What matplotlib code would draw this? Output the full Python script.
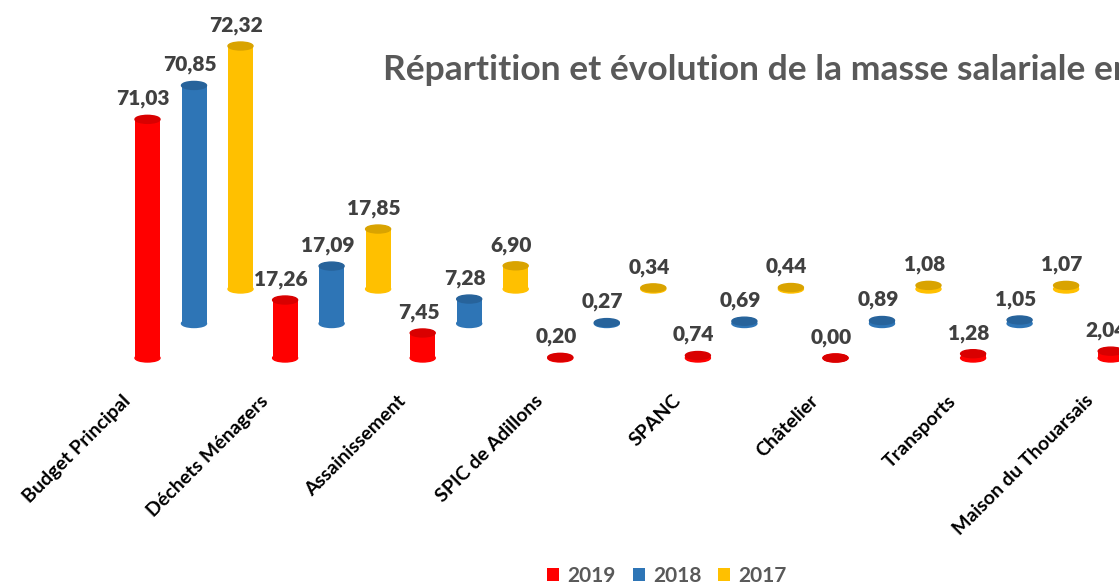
import matplotlib
matplotlib.use("Agg")
import matplotlib.pyplot as plt
from matplotlib.patches import Ellipse
import matplotlib.colors as mcolors

plt.rcParams['font.family'] = ['Lato', 'DejaVu Sans']

# ---------------- data ----------------
categories = ["Budget Principal", "Déchets Ménagers", "Assainissement",
              "SPIC de Adillons", "SPANC", "Châtelier", "Transports",
              "Maison du Thouarsais"]
years = ["2019", "2018", "2017"]
values_2019 = [71.03, 17.26, 7.45, 0.20, 0.74, 0.00, 1.28, 2.04]
values_2018 = [70.85, 17.09, 7.28, 0.27, 0.69, 0.89, 1.05]
values_2017 = [72.32, 17.85, 6.90, 0.34, 0.44, 1.08, 1.07]
series = [values_2019, values_2018, values_2017]
colors = ["#FF0000", "#2E75B6", "#FFC000"]
title = "Répartition et évolution de la masse salariale en"

# ---------------- layout (pixel based pseudo-3D) ----------------
W, H = 1119, 584
PX_CAT = 137.6        # px per category
PX_VAL = 3.36         # px per value unit
X0 = 147.5            # px of first front bar centre
BASE0 = 358.0         # px (from top) of front baseline
DX = 46.5 / PX_CAT    # depth shift in x (category units)
DY = 34.5 / PX_VAL    # depth shift in y (value units)
BW = 25 / PX_CAT      # bar width
CAP = 8 / PX_VAL      # ellipse cap height

fig = plt.figure(figsize=(W / 100, H / 100), dpi=100)
ax = fig.add_axes([0, 0, 1, 1])
xmin = -X0 / PX_CAT
ax.set_xlim(xmin, xmin + W / PX_CAT)
ymax = BASE0 / PX_VAL
ax.set_ylim(ymax - H / PX_VAL, ymax)
ax.axis("off")

handles = []
# draw back series first
for s in range(len(series) - 1, -1, -1):
    vals = series[s]
    col = colors[s]
    dark = tuple(c * 0.85 for c in mcolors.to_rgb(col))
    xs = [i + s * DX for i in range(len(vals))]
    bottom = s * DY
    bars = ax.bar(xs, vals, width=BW, bottom=bottom, color=col, zorder=3 + (2 - s))
    handles.append((s, bars))
    for x, v in zip(xs, vals):
        ax.add_patch(Ellipse((x, bottom), BW, CAP, color=col, zorder=3 + (2 - s)))
        ax.add_patch(Ellipse((x, bottom + v), BW, CAP, color=dark, zorder=3.5 + (2 - s)))
        ax.annotate(f"{v:.2f}".replace(".", ","), xy=(x, bottom + v),
                    xytext=(-3, 8), textcoords="offset points",
                    ha="center", va="bottom", fontsize=15, fontweight="heavy",
                    color="#404040", zorder=10)

for i, cat in enumerate(categories):
    ax.text(i - 26 / PX_CAT, -34 / PX_VAL, cat, rotation=45, rotation_mode="anchor",
            ha="right", va="top", fontsize=14, fontweight="bold", color="black")

fig.text(383 / W, 1 - 80 / H, title, ha="left", va="baseline", fontsize=25.5,
         fontweight="bold", color="#595959")

handles.sort(key=lambda t: t[0])
fig.legend([h for _, h in handles], years, loc="center",
           bbox_to_anchor=(667 / W, 1 - 576 / H), ncol=3, frameon=False,
           prop=dict(weight="bold", size=15), labelcolor="#595959",
           handlelength=0.58, handleheight=0.58, handletextpad=0.4,
           columnspacing=0.8)

fig.savefig("out.png", dpi=100)
